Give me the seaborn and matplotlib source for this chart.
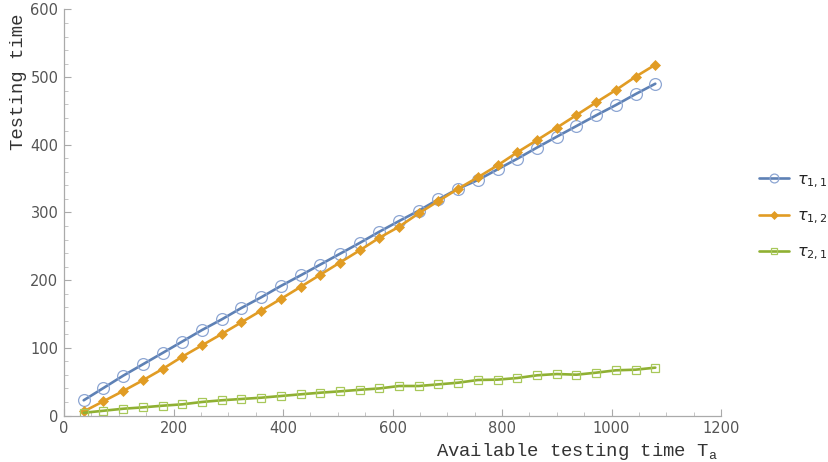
import matplotlib
matplotlib.use("Agg")
import matplotlib.pyplot as plt
import seaborn as sns
import numpy as np
import pandas as pd
from matplotlib.ticker import MultipleLocator

# Data
x_vals = [36, 72, 108, 144, 180, 216, 252, 288, 324, 360, 396, 432, 468, 504, 540,
          576, 612, 648, 684, 720, 756, 792, 828, 864, 900, 936, 972, 1008, 1044, 1080]
tau_11 = [22.5, 40.6, 58.8, 75.6, 92.4, 109.3, 126.3, 142.0, 158.9, 174.6, 191.4, 207.0,
          223.0, 239.0, 255.0, 271.6, 287.4, 302.7, 319.5, 335.2, 348.0, 363.8, 379.5,
          396.0, 412.0, 427.8, 443.6, 458.8, 475.0, 490.3]
tau_12 = [6.0, 21.0, 36.2, 52.0, 68.7, 86.9, 103.7, 120.4, 137.7, 154.9, 172.2, 190.0,
          208.0, 226.0, 244.0, 262.7, 279.0, 298.8, 317.0, 335.2, 352.0, 369.7, 389.0,
          407.0, 425.3, 444.0, 462.8, 481.0, 500.7, 518.4]
tau_21 = [4.0, 7.0, 10.0, 12.0, 14.5, 16.5, 20.0, 22.5, 24.4, 26.3, 28.8, 31.3, 33.7,
          35.7, 38.0, 40.0, 43.6, 43.6, 46.0, 48.5, 52.5, 53.0, 55.4, 59.4, 61.3, 60.3,
          63.3, 66.8, 67.7, 70.7]
labels = [r"$\tau_{1,1}$", r"$\tau_{1,2}$", r"$\tau_{2,1}$"]
x_ticks = [0, 200, 400, 600, 800, 1000, 1200]
y_ticks = [0, 100, 200, 300, 400, 500, 600]

sns.set_theme(style="white")
plt.rcParams['font.family'] = ['DejaVu Sans']
plt.rcParams['mathtext.fontset'] = 'dejavusans'

fig = plt.figure(figsize=(8.29, 4.62), dpi=100)
ax = fig.add_axes([64 / 829, 46.5 / 462, (721 - 64) / 829, (415.5 - 9.5) / 462])

styles = [
    dict(color="#5E81B5", marker="o", markersize=8.5, markerfacecolor="none",
         markeredgecolor="#8DA6D3", markeredgewidth=0.9),
    dict(color="#E19C24", marker="D", markersize=5.2, markerfacecolor="#E19C24",
         markeredgecolor="#E19C24", markeredgewidth=0.5),
    dict(color="#8FB032", marker="s", markersize=6.3, markerfacecolor="none",
         markeredgecolor="#A8C85A", markeredgewidth=0.9),
]
series = [tau_11, tau_12, tau_21]
for ys, lab, st in zip(series, labels, styles):
    df = pd.DataFrame({"x": x_vals, "y": ys})
    sns.lineplot(data=df, x="x", y="y", ax=ax, label=lab, linewidth=1.9,
                 **st)

ax.set_xlim(0, 1200)
ax.set_ylim(0, 600)
ax.set_xticks(x_ticks)
ax.set_yticks(y_ticks)
ax.xaxis.set_minor_locator(MultipleLocator(50))
ax.yaxis.set_minor_locator(MultipleLocator(20))
ax.tick_params(axis="both", which="major", direction="in", length=5, width=0.8,
               color="#aaaaaa", labelsize=10.5, labelcolor="#555555", pad=4,
               bottom=True, left=True)
ax.tick_params(axis="both", which="minor", direction="in", length=3, width=0.6,
               color="#bbbbbb", bottom=True, left=True)
for s in ["top", "right"]:
    ax.spines[s].set_visible(False)
for s in ["left", "bottom"]:
    ax.spines[s].set_color("#aaaaaa")
    ax.spines[s].set_linewidth(0.9)

ax.set_xlabel("")
ax.set_ylabel("")
fig.text(718 / 829, 1 - 452 / 462, r"Available testing time T$_\mathregular{a}$",
         ha="right", va="center", fontsize=13.6, family="Liberation Mono",
         color="#333333")
fig.text(19 / 829, 1 - 82 / 462, "Testing time", rotation=90, ha="center",
         va="center", fontsize=13.6, family="Liberation Mono", color="#333333")

leg = ax.legend(loc="center left", bbox_to_anchor=(759 / 829, 1 - 217 / 462),
                bbox_transform=fig.transFigure, frameon=False, fontsize=11.5,
                handlelength=1.9, labelspacing=1.15, handletextpad=0.5,
                borderpad=0, borderaxespad=0, markerscale=0.75)
for t in leg.get_texts():
    t.set_color("#222222")

fig.savefig("out.png", dpi=100)
